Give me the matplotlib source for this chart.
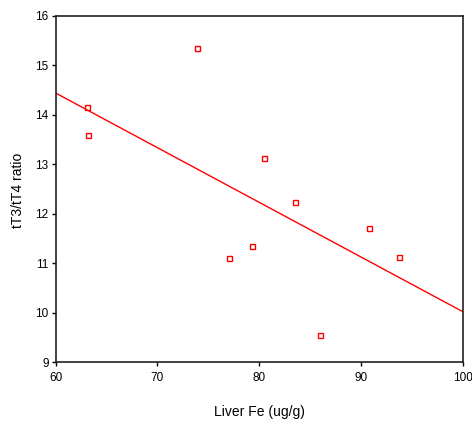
import numpy as np
import matplotlib.pyplot as plt

plt.rcParams['font.family'] = ['Liberation Sans', 'DejaVu Sans']

# data
liver_fe = [63.1, 63.2, 73.9, 80.5, 83.5, 79.3, 77.0, 86.0, 90.8, 93.7]
t3_t4 = [14.16, 13.59, 15.36, 13.13, 12.23, 11.35, 11.10, 9.54, 11.71, 11.12]

fig = plt.figure(figsize=(4.72, 4.24), dpi=100)
ax = fig.add_axes([0.1176, 0.1462, 0.8634, 0.8161])

# regression line over the full x range
slope, intercept = np.polyfit(liver_fe, t3_t4, 1)
xs = np.array([60, 100])
ax.plot(xs, slope*xs + intercept, color='red', lw=1)

ax.plot(liver_fe, t3_t4, 's', mfc='none', mec='red', ms=3.6, mew=1)

ax.set_xlim(60, 100)
ax.set_ylim(9, 16)
ax.set_xticks([60, 70, 80, 90, 100])
ax.set_yticks(range(9, 17))
ax.tick_params(labelsize=8.5, length=3, width=1, pad=2)
ax.tick_params(axis='x', pad=4)
for s in ax.spines.values():
    s.set_linewidth(1.2)
    s.set_color('#222222')

fig.text(0.549, 0.028, 'Liver Fe (ug/g)', ha='center', va='center', fontsize=10)
fig.text(0.038, 0.552, 'tT3/tT4 ratio', ha='center', va='center', rotation=90, fontsize=10)

fig.savefig('out.png', dpi=100)
